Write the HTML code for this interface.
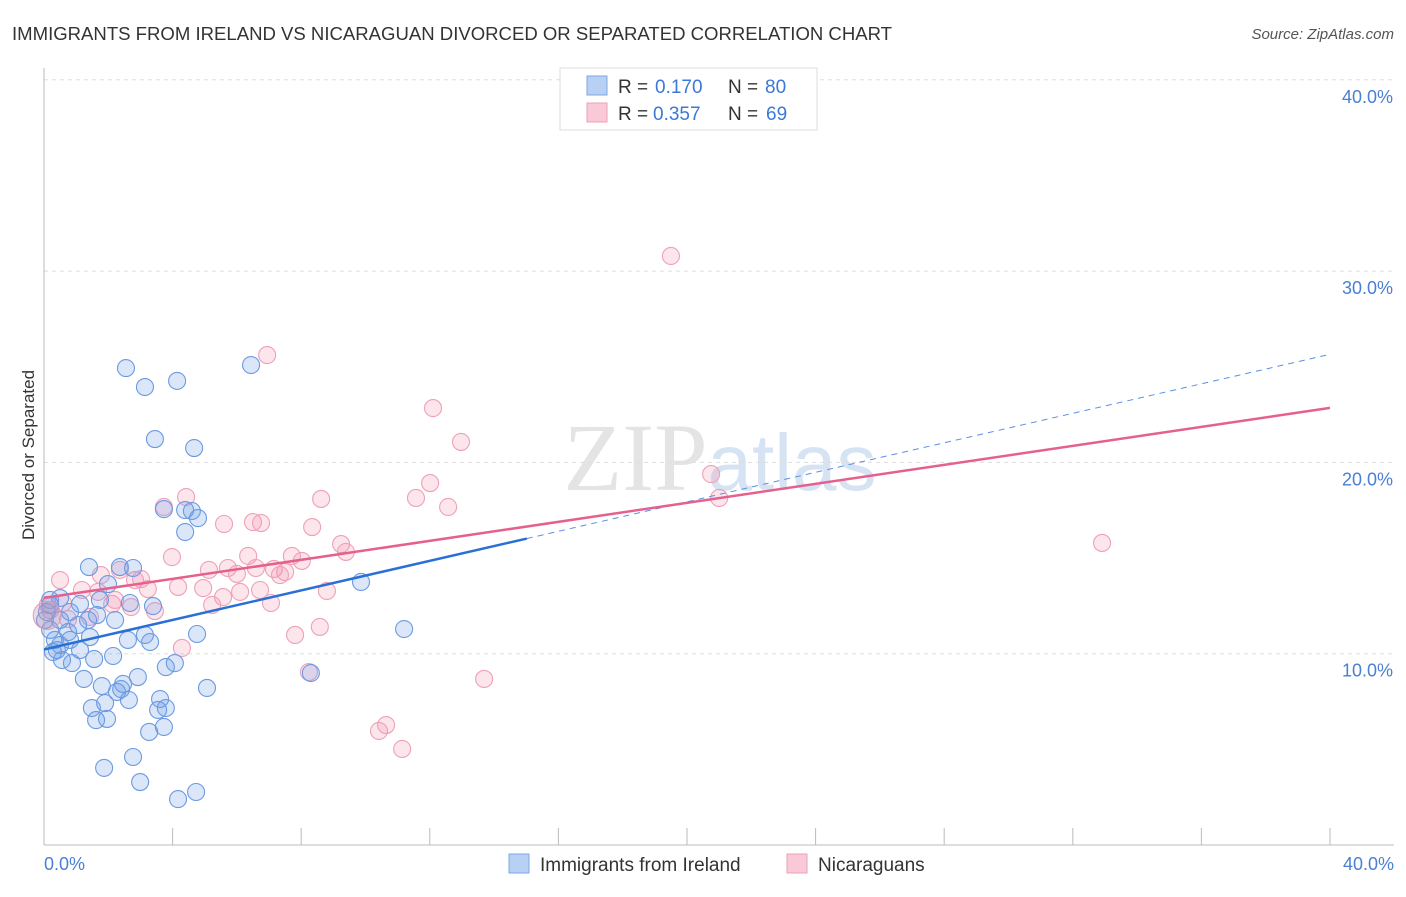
<!DOCTYPE html>
<html><head><meta charset="utf-8"><style>
body{margin:0;background:#fff;font-family:"Liberation Sans",sans-serif}
</style></head><body>
<svg width="1406" height="892" viewBox="0 0 1406 892" xmlns="http://www.w3.org/2000/svg" font-family="Liberation Sans, sans-serif">
<text x="12" y="40" font-size="18" fill="#333" textLength="880" lengthAdjust="spacingAndGlyphs">IMMIGRANTS FROM IRELAND VS NICARAGUAN DIVORCED OR SEPARATED CORRELATION CHART</text>
<text x="1394" y="39" font-size="15" fill="#555" font-style="italic" text-anchor="end">Source: ZipAtlas.com</text>
<text x="720" y="490" font-size="96" fill="#e4e4e4" text-anchor="middle" font-family="Liberation Serif, serif">ZIP<tspan fill="#d6e3f3" font-family="Liberation Sans, sans-serif" font-size="80">atlas</tspan></text>
<g id="grid"></g>
<line x1="44" y1="68" x2="44" y2="845" stroke="#bbb"/>
<line x1="44" y1="845" x2="1394" y2="845" stroke="#bbb"/>
<g id="xticks"></g>
<text x="34" y="455" font-size="17" fill="#333" text-anchor="middle" transform="rotate(-90 34 455)">Divorced or Separated</text>
<text x="44" y="870" font-size="18" fill="#4a7fd4">0.0%</text>
<text x="1394" y="870" font-size="18" fill="#4a7fd4" text-anchor="end">40.0%</text>
<g id="points"></g>
<g id="trends"></g>
<g>
<rect x="560" y="68" width="257" height="62" fill="#fff" stroke="#ddd"/>
<rect x="587" y="76" width="20" height="19" fill="#b7d0f3" stroke="#7ea8e6"/>
<rect x="587" y="103" width="20" height="19" fill="#f9c9d7" stroke="#ee9fb8"/>
<text x="618" y="93" font-size="19" fill="#333">R =</text>
<text x="655" y="93" font-size="19" fill="#3b78d8">0.170</text>
<text x="728" y="93" font-size="19" fill="#333">N =</text>
<text x="765" y="93" font-size="19" fill="#3b78d8">80</text>
<text x="618" y="120" font-size="19" fill="#333">R =</text>
<text x="653" y="120" font-size="19" fill="#3b78d8">0.357</text>
<text x="728" y="120" font-size="19" fill="#333">N =</text>
<text x="766" y="120" font-size="19" fill="#3b78d8">69</text>
</g>
<g>
<rect x="509" y="854" width="20" height="19" fill="#b7d0f3" stroke="#7ea8e6"/>
<text x="540" y="871" font-size="19" fill="#333">Immigrants from Ireland</text>
<rect x="787" y="854" width="20" height="19" fill="#f9c9d7" stroke="#ee9fb8"/>
<text x="818" y="871" font-size="19" fill="#333">Nicaraguans</text>
</g>
</svg>
<script>
const yTicks=[10,20,30,40];
const yTickLabels=["10.0%","20.0%","30.0%","40.0%"];
const xTicks=[0,4,8,12,16,20,24,28,32,36,40];
const bluePx=[[126,368],[145,387],[177,381],[251,365],[155,439],[194,448],[164,509],[192,511],[198,518],[185,532],[361,582],[404,629],[311,673],[207,688],[89,567],[120,567],[133,568],[108,584],[60,598],[80,604],[100,600],[130,603],[153,606],[115,620],[88,620],[97,615],[60,620],[50,630],[50,605],[55,640],[60,645],[70,640],[90,637],[145,635],[150,642],[128,640],[197,634],[80,650],[62,660],[72,663],[94,659],[113,656],[175,663],[166,667],[84,679],[102,686],[138,677],[121,689],[123,684],[117,692],[160,699],[92,708],[105,703],[129,700],[166,708],[158,710],[96,720],[107,719],[149,732],[164,727],[104,768],[133,757],[140,782],[178,799],[196,792],[53,652],[68,632],[78,625],[45,620],[185,510],[50,600],[70,612],[57,650],[47,612]];
const pinkPx=[[671,256],[267,355],[433,408],[461,442],[711,474],[430,483],[416,498],[448,507],[321,499],[186,497],[719,498],[1102,543],[164,507],[224,524],[253,522],[261,523],[312,527],[341,544],[346,552],[172,557],[248,556],[292,556],[302,561],[228,568],[209,570],[237,574],[256,568],[274,569],[285,572],[280,575],[120,570],[135,580],[141,579],[148,589],[203,588],[178,587],[223,597],[212,605],[260,590],[271,603],[327,591],[101,575],[82,590],[63,603],[50,610],[112,604],[131,607],[155,611],[68,619],[90,617],[295,635],[320,627],[182,648],[309,672],[484,679],[402,749],[379,731],[386,725],[115,600],[98,592],[60,580],[48,605],[240,592]];
const blueX=bluePx.map(p=>+((p[0]-44)/1286*40).toFixed(2));
const blueY=bluePx.map(p=>+((845-p[1])/19.13).toFixed(2));
const pinkX=pinkPx.map(p=>+((p[0]-44)/1286*40).toFixed(2));
const pinkY=pinkPx.map(p=>+((845-p[1])/19.13).toFixed(2));
const blueTrend=[[0,10.22],[15.02,16.02],[40,25.65]];
const pinkTrend=[[0,12.92],[40,22.85]];
const NS="http://www.w3.org/2000/svg";
const sx=v=>44+v/40*1286, sy=v=>845-v*19.13;
function mk(tag,attrs,parent){const e=document.createElementNS(NS,tag);for(const k in attrs)e.setAttribute(k,attrs[k]);parent.appendChild(e);return e;}
const grid=document.getElementById('grid');
yTicks.forEach((t,i)=>{
 const l=mk('line',{x1:44,x2:1394,y1:sy(t),y2:sy(t),stroke:'#ddd','stroke-dasharray':'4,4'},grid);
 
 
 const tx=mk('text',{x:1393,y:sy(t)+23,'font-size':18,fill:'#4a7fd4','text-anchor':'end'},grid);
 tx.textContent=yTickLabels[i];
 
 
});
const xt=document.getElementById('xticks');
xTicks.forEach(t=>{
 const l=mk('line',{x1:sx(t),x2:sx(t),y1:828,y2:845,stroke:'#bbb'},xt);
 
 
});
const pts=document.getElementById('points');
pinkX.forEach((x,i)=>{
 const c=mk('circle',{cx:sx(x),cy:sy(pinkY[i]),r:8.5,fill:'rgba(242,140,170,0.22)',stroke:'#efa0b9','stroke-width':1.1},pts);
 
 
});
blueX.forEach((x,i)=>{
 const c=mk('circle',{cx:sx(x),cy:sy(blueY[i]),r:8.5,fill:'rgba(110,160,230,0.25)',stroke:'#6b9ae2','stroke-width':1.1},pts);
 
 
});
const big=mk('circle',{cx:sx(0.1),cy:sy(12.0),r:14,fill:'rgba(200,150,180,0.35)',stroke:'#d9a0bc'},pts);


const tr=document.getElementById('trends');
let l=mk('line',{x1:sx(blueTrend[0][0]),y1:sy(blueTrend[0][1]),x2:sx(blueTrend[1][0]),y2:sy(blueTrend[1][1]),stroke:'#2a6fd6','stroke-width':2.5},tr);


l=mk('line',{x1:sx(blueTrend[1][0]),y1:sy(blueTrend[1][1]),x2:sx(blueTrend[2][0]),y2:sy(blueTrend[2][1]),stroke:'#5b90e0','stroke-width':1,'stroke-dasharray':'6,5'},tr);


l=mk('line',{x1:sx(pinkTrend[0][0]),y1:sy(pinkTrend[0][1]),x2:sx(pinkTrend[1][0]),y2:sy(pinkTrend[1][1]),stroke:'#e6608e','stroke-width':2.5},tr);


</script>
</body></html>
